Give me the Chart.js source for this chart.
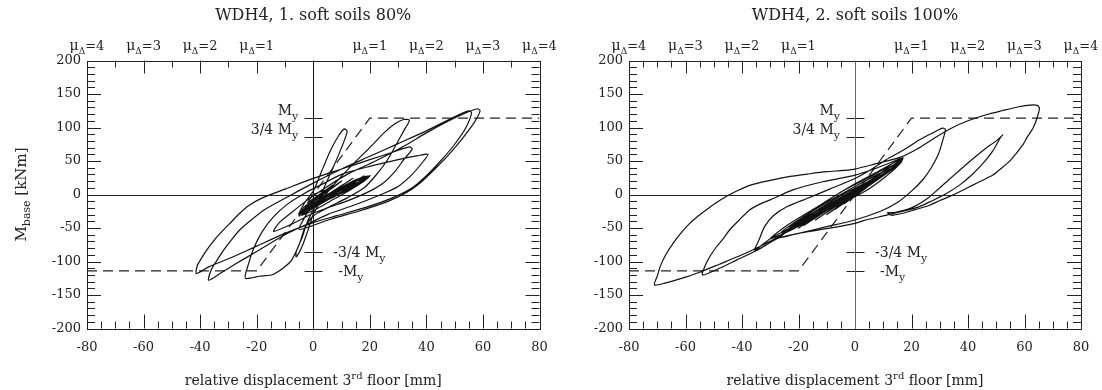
<!DOCTYPE html>
<html>
<head>
<meta charset="utf-8">
<script src="https://cdn.jsdelivr.net/npm/chart.js@4.4.1/dist/chart.umd.min.js"></script>
<style>
  html, body { margin: 0; padding: 0; background: #fff; }
  #wrap { position: relative; width: 1102px; height: 390px; overflow: hidden; }
  canvas { position: absolute; top: 0; }
  #left { left: 0; }
  #right { left: 551px; }
</style>
</head>
<body>
<div id="wrap">
  <canvas id="left" width="570" height="390"></canvas>
  <canvas id="right" width="551" height="390"></canvas>
</div>
<script>
const FONT = "'DejaVu Serif', serif";

// axis values
const xMin = -80, xMax = 80, xStep = 20;
const yMin = -200, yMax = 200, yStep = 50;
const muTicks = [-80, -60, -40, -20, 20, 40, 60, 80];
const muLabels = ["4", "3", "2", "1", "1", "2", "3", "4"];

// yield moment and bilinear envelope (dashed)
const My = 114;
const envX = [-80, -20, 20, 80];
const envY = [-My, -My, My, My];
const refLevels = [My, 0.75 * My, -0.75 * My, -My];
const refLabels = ["M", "3/4 M", "-3/4 M", "-M"];

// hysteresis traces [displacement mm, moment kNm]
const soft80 = [
  [0,0],[4,6],[-2,-12],[7,14],[-3,-18],[10,20],[-4,-24],[14,24],[-5,-28],[18,28],[-4,-30],[20,28],[15,12],[8,-2],[0,-18],[-5,-30],
  [-3,-12],[0,5],[3,35],[6,65],[9,88],[11,98],[12,94],[10,70],[7,40],[4,12],[1,-15],[-2,-40],[-4,-65],[-6,-85],[-6,-93],[-4,-78],[-2,-55],[0,-30],[3,-8],
  [8,18],[14,45],[20,70],[25,92],[29,106],[32,112],[34,111],[32,95],[29,72],[26,50],[22,28],[18,10],[12,-5],[5,-20],[0,-32],
  [-3,-50],[-5,-75],[-8,-100],[-14,-119],[-19,-122],[-24,-125],[-23,-105],[-21,-80],[-18,-55],[-14,-33],[-9,-14],[-3,2],[3,15],[10,30],
  [20,42],[30,52],[37,58],[40.6,60],[39,50],[35,30],[30,12],[24,0],[15,-15],[5,-30],[0,-40],
  [-10,-60],[-20,-85],[-28,-105],[-33,-118],[-37,-128],[-36,-112],[-34,-98],[-31.5,-82],[-29,-68],[-26,-53],[-22.5,-40],[-17,-22],[-8,-1],[0,17],
  [10,38],[20,57],[30,76],[40,95],[48,112],[53,122],[55,125],[56,122],[54,100],[50,75],[45,50],[40,28],[35,10],[28,-5],[18,-20],[8,-32],[0,-42],
  [-10,-58],[-20,-77],[-30,-96],[-37,-108],[-41.3,-118],[-41,-106],[-39.5,-95],[-37.5,-82],[-35,-68],[-32,-54],[-29,-41],[-26,-28],[-23,-17],[-18,-5],[-10,8],[0,24],
  [10,38],[20,52],[28,63],[34,71],[35,68],[32,52],[29,35],[25,18],[20,5],[13,-8],[5,-20],[0,-28],
  [-8,-45],[-14,-55],[-12,-42],[-8,-28],[-2,-8],[5,12],[12,30],[22,50],[32,72],[40,92],[48,110],[54,122],[58,128],[59,125],[57,108],[53,85],[48,60],[43,38],[38,18],[33,3],[26,-11],[16,-25],[6,-37],[0,-46],[-5,-52],
  [-3,-34],[0,-14],[5,-1],[10,11],[15,22],[20,28],[17,17],[12,4],[6,-10],[0,-24],[-5,-32],[-2,-18],[4,-4],[9,8],[14,19],[19,26],[15,14],[9,1],[3,-13],[-2,-24],[-4,-28],
  [0,-14],[6,0],[11,12],[16,21],[18,24],[13,10],[6,-4],[0,-16],[-3,-20],[1,-8],[7,4],[12,14],[15,18],[10,6],[4,-4],[0,-8]
];

const soft100 = [
  [0,0],[4,10],[-4,-14],[7,20],[-7,-22],[10,28],[-10,-30],[12,36],[-14,-38],[14,42],[-18,-46],[15,48],[-20,-50],[16,50],[10,28],[0,2],[-10,-24],[-20,-46],[-26,-60],[-27,-65],
  [-22,-48],[-14,-26],[-5,-4],[5,18],[12,34],[16,46],[17,55],[14,40],[7,20],[-3,-6],[-13,-28],[-23,-50],[-30,-66],[-35.5,-83],
  [-34,-68],[-32,-48],[-29,-32],[-24,-18],[-17,-6],[-9,8],[0,24],[6,38],[11,52],[17,66],[23,82],[28,93],[31,99],[32,97],[31,80],[29.5,60],[27,40],[24,22],[20,5],[15,-12],[9,-25],[0,-38],[-10,-48],[-20,-58],[-27,-65],
  [-35,-84],[-42,-98],[-48,-110],[-54,-120],[-52.7,-103],[-51,-90],[-49,-78],[-46.5,-65],[-44.4,-53],[-41,-38],[-37.3,-23],[-33.5,-14],[-30,-8],[-22,7],[-11.4,19],[0,29],[8,40],[14,50],[16.5,54],[15,42],[10,24],[4,6],[-5,-14],[-15,-34],[-27,-63],
  [-33,-76],[-40,-90],[-48,-104],[-55,-116],[-62,-126],[-67,-132],[-71,-135],[-70,-122],[-69,-108],[-67,-90],[-64.4,-73],[-61.5,-57],[-58.5,-43],[-55.5,-32],[-52.7,-23],[-49,-12],[-45.6,-3],[-41.5,6],[-37,14],[-30,21],[-23,27],[-16,31],[-10,34],[-4,36],[0,38],[7.5,46],[15.7,55],[22,68],[28,84],[34.6,100],[40,110],[46.4,119],[52,125],[58,131],[62,133.5],[64.5,133],[65.3,129],
  [64.5,115],[63,99],[61,86],[59.4,74],[57,61],[54.6,49],[51.5,38],[48.8,29],[45,21],[41.7,14],[38,6],[34.6,-1],[30,-9],[26.4,-16],[21,-23],[16.9,-28],[13,-31],[11.5,-27],[14,-27],[20,-20],[25,-8],[28.7,5],[34,25],[40.5,49],[46,68],[50,80],[52.3,89],[51.5,85],[48.8,65],[45,45],[41,28],[37,14],[32.2,1],[27,-10],[22.8,-18],[17,-25],[10,-32],[3,-39],[0,-43],[-10,-51],[-20,-58],[-27,-64],
  [-20,-40],[-10,-10],[0,16],[8,34],[14,48],[16,52],[12,36],[4,14],[-6,-12],[-16,-38],[-24,-56],[-30,-66],[-24,-46],[-14,-20],[-4,6],[6,28],[12,42],[13,46],
  [8,28],[0,8],[-10,-18],[-20,-44],[-26,-56],[-20,-38],[-10,-12],[0,12],[8,30],[12,38],[6,20],[-2,0],[-12,-24],[-20,-42],[-23,-48],
  [-16,-30],[-6,-4],[4,18],[10,30],[4,12],[-6,-12],[-14,-30],[-18,-36],[-10,-16],[0,6],[6,18],[0,2],[-8,-16],[-12,-22],[-4,-4],[2,6],[0,0]
];

// text with sub/superscript parts: [text, size, dy]
function richText(ctx, parts, x, y, align) {
  let w = 0;
  parts.forEach(p => { ctx.font = p[1] + "px " + FONT; w += ctx.measureText(p[0]).width; });
  let cx = align === "right" ? x - w : align === "center" ? x - w / 2 : x;
  parts.forEach(p => {
    ctx.font = p[1] + "px " + FONT;
    ctx.fillText(p[0], cx, y + (p[2] || 0));
    cx += ctx.measureText(p[0]).width;
  });
}

const frame = {
  id: "frame",
  beforeDatasetsDraw(chart, args, o) {
    const { ctx, chartArea: a, scales: { x, y } } = chart;
    const px = v => Math.round(x.getPixelForValue(v)) + 0.5;
    const py = v => Math.round(y.getPixelForValue(v)) + 0.5;
    ctx.save();
    ctx.strokeStyle = "#222";
    ctx.lineWidth = 1;
    ctx.strokeRect(Math.round(a.left) + 0.5, Math.round(a.top) + 0.5, Math.round(a.right - a.left), Math.round(a.bottom - a.top));
    ctx.beginPath();
    for (let v = xMin + 5; v < xMax; v += 5) {
      const len = v % 20 === 0 ? 14 : 7;
      ctx.moveTo(px(v), a.bottom); ctx.lineTo(px(v), a.bottom - len);
    }
    for (let v = xMin + o.topStep; v < xMax; v += o.topStep) {
      if (v === 0) continue;
      const len = v % 20 === 0 ? 13 : 7;
      ctx.moveTo(px(v), a.top); ctx.lineTo(px(v), a.top + len);
    }
    for (let v = yMin + 10; v < yMax; v += 10) {
      const len = v % 50 === 0 ? 14 : 8;
      ctx.moveTo(a.left, py(v)); ctx.lineTo(a.left + len, py(v));
      ctx.moveTo(a.right, py(v)); ctx.lineTo(a.right - len, py(v));
    }
    // yield level marks on the moment axis
    refLevels.forEach(v => { ctx.moveTo(px(0) - 9, py(v)); ctx.lineTo(px(0) + 9, py(v)); });
    ctx.moveTo(a.left, py(0)); ctx.lineTo(a.right, py(0));
    ctx.stroke();
    ctx.strokeStyle = o.zeroColor;
    ctx.beginPath();
    ctx.moveTo(px(0), a.top); ctx.lineTo(px(0), a.bottom);
    ctx.stroke();
    ctx.restore();
  },
  afterDraw(chart, args, o) {
    const { ctx, chartArea: a, scales: { x, y } } = chart;
    const cx = (a.left + a.right) / 2;
    ctx.save();
    ctx.fillStyle = "#222";
    ctx.textBaseline = "alphabetic";
    richText(ctx, [[o.title, 16]], cx, 20, "center");
    muTicks.forEach((v, i) => {
      richText(ctx, [["μ", 14], ["Δ", 9, 4], ["=" + muLabels[i], 13]], x.getPixelForValue(v), 50, "center");
    });
    richText(ctx, [["relative displacement 3", 14], ["rd", 10, -6], [" floor [mm]", 14]], cx, 385, "center");
    const x0 = x.getPixelForValue(0);
    refLevels.forEach((v, i) => {
      const yy = y.getPixelForValue(v);
      if (v > 0) richText(ctx, [[refLabels[i], 14], ["y", 11, 5]], x0 - 15, yy - 3, "right");
      else richText(ctx, [[refLabels[i], 14], ["y", 11, 5]], x0 + (i === 2 ? 20 : 25), yy + 5, "left");
    });
    if (o.yTitle) {
      ctx.translate(20, (a.top + a.bottom) / 2);
      ctx.rotate(-Math.PI / 2);
      richText(ctx, [["M", 15], ["base", 11, 4], [" [kNm]", 15]], 0, 6, "center");
    }
    ctx.restore();
  }
};

function makeChart(id, trace, title, cfg) {
  return new Chart(document.getElementById(id), {
    type: "scatter",
    data: {
      datasets: [
        { data: trace.map(p => ({ x: p[0], y: p[1] })), showLine: true, borderColor: "#111", borderWidth: 1.2, pointRadius: 0, tension: 0.25 },
        { data: envX.map((v, i) => ({ x: v, y: envY[i] })), showLine: true, borderColor: "#222", borderWidth: 1.2, borderDash: [10, 6], pointRadius: 0, tension: 0 }
      ]
    },
    options: {
      responsive: false,
      animation: false,
      devicePixelRatio: 1,
      layout: { padding: { top: 60.5, right: cfg.rightPad, bottom: 0, left: 0 } },
      plugins: {
        legend: { display: false },
        tooltip: { enabled: false },
        frame: Object.assign({ title: title }, cfg)
      },
      scales: {
        x: {
          type: "linear", min: xMin, max: xMax,
          ticks: { stepSize: xStep, padding: 11, color: "#222", font: { family: FONT, size: 13 }, maxRotation: 0 },
          grid: { display: false, drawTicks: false },
          border: { display: false },
          afterFit: s => { s.height = 61.5; s.paddingLeft = 0; s.paddingRight = 0; }
        },
        y: {
          type: "linear", min: yMin, max: yMax,
          ticks: { stepSize: yStep, padding: 6, color: "#222", font: { family: FONT, size: 13 } },
          grid: { display: false, drawTicks: false },
          border: { display: false },
          afterFit: s => { s.width = cfg.yWidth; s.paddingTop = 0; s.paddingBottom = 0; }
        }
      }
    },
    plugins: [frame]
  });
}

// left canvas is 570 wide so its last top label can run under the transparent right canvas
makeChart("left", soft80, "WDH4, 1. soft soils 80%", { yWidth: 87, rightPad: 30.5, topStep: 10, zeroColor: "#111", yTitle: true });
makeChart("right", soft100, "WDH4, 2. soft soils 100%", { yWidth: 78, rightPad: 21, topStep: 5, zeroColor: "#666", yTitle: false });
</script>
</body>
</html>
